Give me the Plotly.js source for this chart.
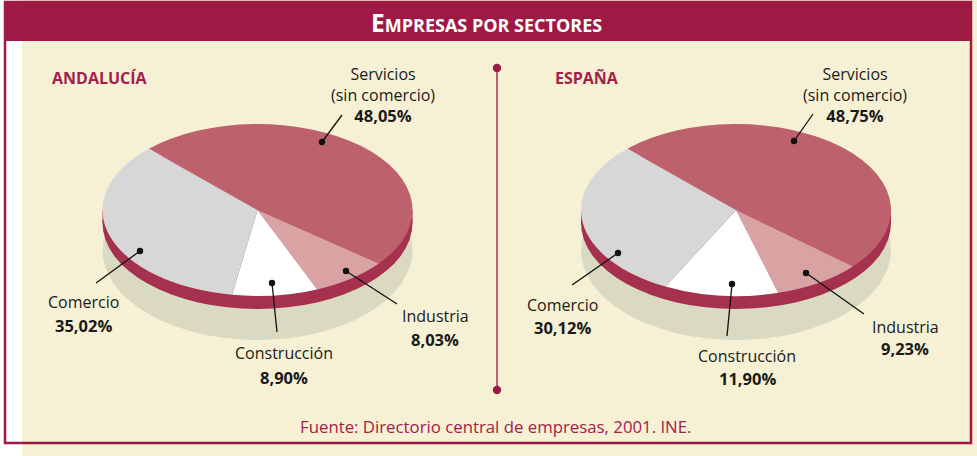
<!DOCTYPE html>
<html><head><meta charset="utf-8">
<script src="https://cdn.plot.ly/plotly-3.0.1.min.js"></script>
<style>html,body{margin:0;padding:0;background:#fff;overflow:hidden}#chart{width:977px;height:456px}</style>
</head><body><div id="chart"></div>
<script>
// ---- data ----
const sectors = ['Servicios (sin comercio)', 'Industria', 'Construcción', 'Comercio'];
const labelLines = [['Servicios', '(sin comercio)'], ['Industria'], ['Construcción'], ['Comercio']];
const andalucia = [48.05, 8.03, 8.90, 35.02];
const espana = [48.75, 9.23, 11.90, 30.12];
const regionNames = ['ANDALUCÍA', 'ESPAÑA'];
const chartTitle = 'EMPRESAS POR SECTORES';
const sourceText = 'Fuente: Directorio central de empresas, 2001. INE.';

// ---- styles / layout ----
const W = 977, H = 456;
const sliceColors = ['#bd626c', '#d9a3a4', '#ffffff', '#d7d7d7'];
const RED = '#9e1a45', TITLE_RED = '#a3204c', RIM = '#a6314f', SHADOW = '#dad9c1', BEIGE = '#f6f1d4';
const FONT = 'Open Sans, Lato, sans-serif';
const px = x => x / W, py = y => 1 - y / H;
const R = 155, RY = 86, RIM_H = 13;
const pies = [
  {values: andalucia, cx: 257.5, cy: 210, name: regionNames[0], nameX: 50,
   labels: [
     {x: 383, y: 94.5, dot: [322, 142], end: [342, 115]},
     {x: 435, y: 316, pctY: 339, dot: [346, 271], end: [397, 304]},
     {x: 284, y: 353, pctY: 377, dot: [272, 283], end: [277, 332]},
     {x: 83, y: 302, pctY: 325, dot: [140, 251], end: [96, 283]}
   ]},
  {values: espana, cx: 736, cy: 210, name: regionNames[1], nameX: 553,
   labels: [
     {x: 855, y: 94.5, dot: [794, 141], end: [813, 114]},
     {x: 905, y: 327, pctY: 348, dot: [806, 273], end: [864, 314]},
     {x: 747, y: 356, pctY: 378, dot: [732, 284], end: [727, 336]},
     {x: 562, y: 305, pctY: 327, dot: [618, 253], end: [572, 285]}
   ]}
];
const fmt = v => v.toFixed(2).replace('.', ',') + '%';

const shapes = [];
const annotations = [];
function rectPx(x0, y0, x1, y1, fill, line, layer) {
  shapes.push({type: 'rect', xref: 'paper', yref: 'paper', x0: px(x0), x1: px(x1), y0: py(y1), y1: py(y0),
    fillcolor: fill || 'rgba(0,0,0,0)', line: line || {width: 0}, layer: layer || 'below'});
}
function ellPx(cx, cy, rx, ry, fill, layer) {
  shapes.push({type: 'circle', xref: 'paper', yref: 'paper', x0: px(cx - rx), x1: px(cx + rx), y0: py(cy + ry), y1: py(cy - ry),
    fillcolor: fill, line: {width: 0}, layer: layer || 'below'});
}
function linePx(x0, y0, x1, y1, color, width) {
  shapes.push({type: 'line', xref: 'paper', yref: 'paper', x0: px(x0), x1: px(x1), y0: py(y0), y1: py(y1),
    line: {color: color, width: width}, layer: 'above'});
}
function text(t, x, y, size, color, bold, xanchor) {
  annotations.push({xref: 'paper', yref: 'paper', x: px(x), y: py(y), xanchor: xanchor || 'center', yanchor: 'middle',
    showarrow: false, text: bold ? '<b>' + t + '</b>' : t, font: {family: FONT, size: size, color: color}});
}

// background panel, header, frame
rectPx(22, 0, W, H, BEIGE);
rectPx(4, 2, 971, 41, RED);
rectPx(5, 2, 971, 443, null, {color: RED, width: 2.5});
text(chartTitle.charAt(0) + '<span style="font-size:18px">' + chartTitle.slice(1) + '</span>', 486, 22, 24.5, '#ffffff', true);
text(sourceText, 496, 426, 16.8, TITLE_RED, false);

// divider
linePx(497, 68, 497, 390, '#b8385a', 1.6);
ellPx(497, 68, 4.2, 4.2, RED, 'above');
ellPx(497, 390, 4.2, 4.2, RED, 'above');

const data = [];
pies.forEach(p => {
  // shadow + rim (3D look)
  ellPx(p.cx, p.cy + 40, R, 90, SHADOW);
  rectPx(p.cx - R, p.cy, p.cx + R, p.cy + RIM_H, RIM);
  ellPx(p.cx, p.cy + RIM_H, R, RY, RIM);
  data.push({
    type: 'pie', values: p.values, labels: sectors, sort: false, direction: 'clockwise', rotation: -44.5,
    marker: {colors: sliceColors, line: {width: 0}}, textinfo: 'none', hoverinfo: 'skip', showlegend: false,
    domain: {x: [px(p.cx - R), px(p.cx + R)], y: [py(p.cy + R), py(p.cy - R)]}
  });
  text(p.name, p.nameX, 78, 16, TITLE_RED, true, 'left');
  p.labels.forEach((l, i) => {
    linePx(l.dot[0], l.dot[1], l.end[0], l.end[1], '#111111', 1.3);
    ellPx(l.dot[0], l.dot[1], 3.2, 3.2, '#111111', 'above');
    const pct = '<b><span style="font-size:16.5px">' + fmt(p.values[i]) + '</span></b>';
    if (labelLines[i].length > 1) {
      // multi-line label in a single text block
      annotations.push({xref: 'paper', yref: 'paper', x: px(l.x), y: py(l.y), xanchor: 'center', yanchor: 'middle',
        showarrow: false, text: labelLines[i].join('<br>') + '<br>' + pct,
        font: {family: FONT, size: 16, color: '#1a1a1a'}});
    } else {
      text(labelLines[i][0], l.x, l.y, 16, '#1a1a1a', false);
      text(fmt(p.values[i]), l.x, l.pctY, 16.5, '#1a1a1a', true);
    }
  });
});

const layout = {
  width: W, height: H, margin: {l: 0, r: 0, t: 0, b: 0},
  paper_bgcolor: '#ffffff', plot_bgcolor: 'rgba(0,0,0,0)',
  xaxis: {visible: false}, yaxis: {visible: false},
  shapes: shapes, annotations: annotations, showlegend: false
};

Plotly.newPlot('chart', data, layout, {staticPlot: true, displayModeBar: false}).then(() => {
  // tilt the pies into ellipses (flatten vertically around each pie's centre)
  const s = RY / R;
  document.querySelectorAll('.pielayer g.trace').forEach(g => {
    const bb = g.getBBox();
    const cy = bb.y + bb.height / 2;
    g.setAttribute('transform', 'translate(0,' + (cy * (1 - s)) + ') scale(1,' + s + ')');
  });
});
</script>
</body></html>
